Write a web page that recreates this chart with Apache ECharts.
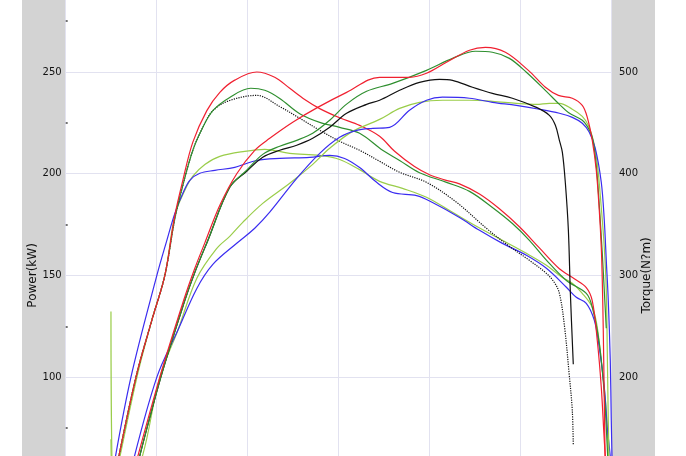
<!DOCTYPE html>
<html>
<head>
<meta charset="utf-8">
<script src="https://cdn.jsdelivr.net/npm/echarts@6/dist/echarts.min.js"></script>
<style>
	html, body {margin: 0; padding: 0; background: #fff;}
	#main {position: absolute; left: 22px; top: 0; width: 633px; height: 456px; background: #d3d3d3;}
</style>
</head>
<body>
<div id="main"></div>
<script>
// power curves, [rpm, kW]
var redPower = [[1751,54],[2036,100],[2300,138],[2421,153.5],[2531,166],[2696,184.5],[2882,200],[3080,211.5],[3245,217.4],[3498,225.3],[3773,232.6],[4091,240],[4454,247.4],[4783,247.4],[4970,249.4],[5190,254.8],[5443,260.7],[5618,262.1],[5838,259.7],[6091,250.8],[6278,242.5],[6421,238.5],[6574,237.1],[6684,233.6],[6739,227.7],[6794,216.4],[6838,201.7],[6871,182],[6893,163.8],[6904,147.6],[6915,123],[6926,88.6],[6937,54]];
var greenPower = [[1773,54],[2047,100],[2311,137.7],[2421,151.5],[2564,167.2],[2805,193.3],[2992,201.7],[3168,209.5],[3355,213.5],[3542,216.4],[3718,219.9],[3905,226.3],[4091,234.2],[4311,240.5],[4597,244.4],[4970,250.8],[5256,256.7],[5509,260.2],[5695,259.7],[5882,256.7],[6069,249.9],[6289,240.5],[6432,234.1],[6531,230.1],[6684,226.3],[6739,223.3],[6794,217.9],[6838,204.1],[6871,184.5],[6904,160.9],[6926,142.7],[6948,124]];
var blackPower = [[1773,54],[2047,100],[2311,137.7],[2421,151.5],[2564,167.2],[2805,193.3],[2992,201.2],[3168,208.1],[3355,211.5],[3542,214],[3718,217.4],[3905,222.8],[4091,229.7],[4311,234.1],[4454,236.1],[4674,241],[4893,244.9],[5113,246.4],[5256,245.9],[5476,242.5],[5695,239.5],[5915,237.1],[6179,232.6],[6322,228.7],[6388,223.8],[6432,216.4],[6465,210.5],[6498,195.3],[6531,172.2],[6553,141.2],[6585,106.3]];
var limePower = [[1498,132.3],[1531,39.4],[1795,54.2],[2036,100],[2234,123],[2443,148.6],[2663,163.3],[2805,169.2],[2948,176.1],[3168,185.4],[3465,195.3],[3718,204.6],[3905,212.5],[4157,220.8],[4454,226.7],[4674,232.1],[4893,235.1],[5146,236.1],[5443,236.1],[5695,235.6],[5959,234.6],[6179,234.1],[6322,234.6],[6432,234.6],[6574,231.7],[6684,228.2],[6750,223.8],[6805,216.4],[6849,205.1],[6893,183.5],[6926,163.8],[6948,142.7],[6959,113.2],[6970,78.8],[6981,54.2]];
var bluePower = [[1718,54.2],[2003,100],[2234,123],[2443,143.6],[2619,155.4],[2882,165.8],[3080,173.2],[3245,181.1],[3542,197.7],[3795,210],[4014,217.9],[4201,221.3],[4377,222.3],[4564,222.8],[4783,231.2],[4970,236.1],[5146,237.6],[5443,237.1],[5695,235.1],[5959,233.6],[6212,231.7],[6432,229.7],[6574,227.7],[6684,224.8],[6761,220.4],[6827,212.5],[6893,195.8],[6926,177.1],[6948,157.4],[6970,137.7],[6992,108.2],[7003,78.8],[7014,54.2]];

// torque curves, [rpm, N·m]
var redTorque = [[1553,108],[1773,200],[1948,256],[2091,300],[2201,359],[2289,393.5],[2399,431],[2553,462],[2696,480],[2860,492],[3102,500],[3300,494.8],[3465,484],[3630,473],[3795,464],[4014,455],[4234,447.5],[4454,436.8],[4619,422],[4838,407],[5003,399],[5168,394],[5333,390],[5553,380],[5772,365.5],[5992,347.8],[6212,327],[6432,306.5],[6596,296.7],[6728,288],[6794,275],[6849,236],[6893,190],[6926,138],[6948,108]];
var greenTorque = [[1553,108],[1773,200],[1948,256],[2091,300],[2201,356],[2289,388.6],[2399,423],[2509,445.6],[2619,462],[2805,475],[3036,484],[3190,482],[3355,474],[3575,459],[3795,450.5],[4014,445.6],[4234,439.7],[4487,423],[4674,413],[4893,401],[5190,391.5],[5443,382.6],[5695,366.8],[5915,351],[6102,334.5],[6289,315],[6509,295],[6728,282.4],[6794,268.7],[6871,233.3],[6926,184],[6959,131],[6970,108]];
var blackTorque = [[1553,108],[1773,200],[1948,256],[2091,300],[2201,356],[2289,388.6],[2399,423],[2509,445.6],[2619,462],[2805,472],[3102,477],[3355,466],[3575,454.5],[3795,442.7],[4014,431.9],[4234,423],[4454,412.2],[4674,401.4],[4970,391.5],[5300,371.9],[5629,346.3],[5882,328.6],[6102,314.8],[6289,302],[6377,293],[6432,282.4],[6487,251],[6541,201.7],[6574,167.3],[6585,132.9]];
var limeTorque = [[1498,138.8],[1520,90],[1564,108],[1784,200],[1948,256],[2091,300],[2201,359],[2311,383.7],[2399,397.5],[2531,409],[2696,417],[2970,422],[3190,424],[3465,420],[3795,418],[4014,414],[4234,404],[4454,392.5],[4706,385.6],[4970,376.8],[5256,362],[5519,348.3],[5805,334.5],[6069,321.7],[6289,310],[6465,298],[6574,292.2],[6684,282.4],[6794,268.7],[6849,249],[6904,206.7],[6948,167.4],[6970,125],[6981,108]];
var blueTorque = [[1520,108],[1718,200],[2003,300],[2113,334.5],[2201,361],[2289,380.7],[2366,393.5],[2476,400.4],[2641,403.3],[2860,406.3],[3102,413],[3355,415],[3685,416],[3905,418],[4069,415],[4234,406],[4421,391.5],[4597,381.5],[4861,378.5],[5036,371.7],[5333,357],[5553,344.3],[5805,331.5],[6069,319.8],[6289,307],[6509,288.4],[6618,278.5],[6728,272.6],[6816,256],[6871,229.3],[6926,190],[6959,150.6],[6992,122],[7010,100]];

var powerTicks = [0, 300, 50];
var torqueTicks = [0, 600, 100];

var myChart = echarts.init(document.getElementById('main'));

function curve(name, data, color, axis, dotted) {
	return {
		name: name,
		type: 'line',
		yAxisIndex: axis,
		data: data,
		smooth: 0.35,
		showSymbol: false,
		symbol: 'none',
		lineStyle: {color: color, width: 1.2, type: dotted ? 'dotted' : 'solid'},
		itemStyle: {color: color}
	};
}

var option = {
	animation: false,
	grid: {
		left: 43.7, right: 44, top: -29.7, bottom: -124.5,
		containLabel: false, outerBoundsMode: 'none',
		show: true, backgroundColor: '#fff', borderWidth: 0
	},
	xAxis: {
		type: 'value', min: 1000, max: 7000, interval: 1000,
		axisLine: {show: false}, axisTick: {show: false}, axisLabel: {show: false},
		splitLine: {lineStyle: {color: '#e2e2f0', width: 1}}
	},
	yAxis: [{
		type: 'value', min: powerTicks[0], max: powerTicks[1], interval: powerTicks[2],
		name: 'Power(kW)', nameLocation: 'middle', nameGap: 27, nameMoveOverlap: false,
		nameTextStyle: {fontFamily: 'DejaVu Sans', fontSize: 12, color: '#111'},
		axisLine: {show: false},
		axisTick: {show: false, inside: true},
		minorTick: {show: true, splitNumber: 2, length: 2, lineStyle: {color: '#444', width: 1.5}},
		axisLabel: {fontFamily: 'DejaVu Sans', fontSize: 10, color: '#111', margin: 4},
		splitLine: {lineStyle: {color: '#e2e2f0', width: 1}}
	}, {
		type: 'value', min: torqueTicks[0], max: torqueTicks[1], interval: torqueTicks[2],
		name: 'Torque(N?m)', nameLocation: 'middle', nameGap: 30, nameMoveOverlap: false,
		nameTextStyle: {fontFamily: 'DejaVu Sans', fontSize: 12, color: '#111'},
		axisLine: {show: false}, axisTick: {show: false},
		axisLabel: {fontFamily: 'DejaVu Sans', fontSize: 10, color: '#111', margin: 8},
		splitLine: {show: false}
	}],
	series: [
		curve('T lime', limeTorque, '#9acd4a', 1),
		curve('T blue', blueTorque, '#3a2cf0', 1),
		curve('T black', blackTorque, '#111', 1, true),
		curve('T green', greenTorque, '#2f8f2f', 1),
		curve('T red', redTorque, '#f02030', 1),
		curve('P lime', limePower, '#9acd4a', 0),
		curve('P blue', bluePower, '#3a2cf0', 0),
		curve('P black', blackPower, '#111', 0),
		curve('P green', greenPower, '#2f8f2f', 0),
		curve('P red', redPower, '#f02030', 0)
	]
};
myChart.setOption(option);
</script>
</body>
</html>
